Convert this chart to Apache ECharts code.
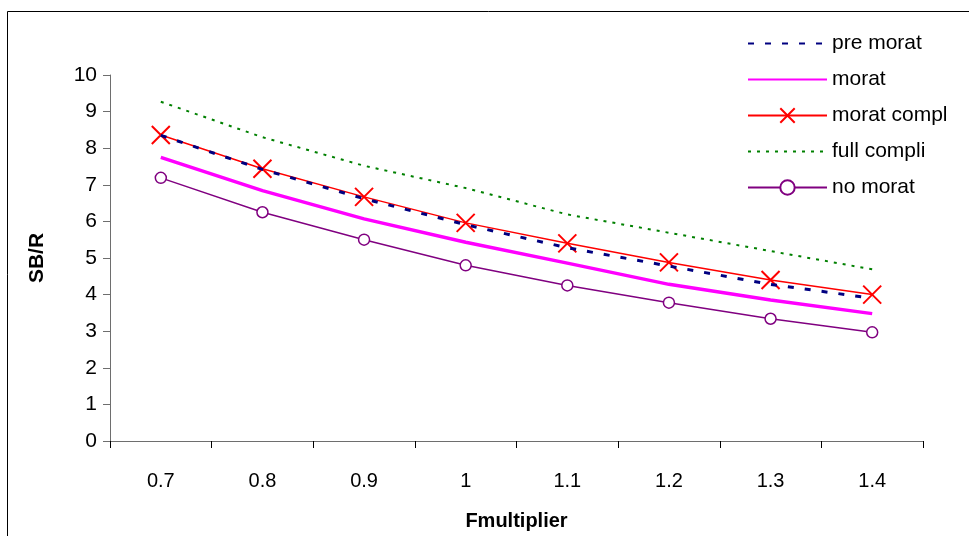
<!DOCTYPE html>
<html>
<head>
<meta charset="utf-8">
<script src="https://cdn.jsdelivr.net/npm/echarts@6/dist/echarts.min.js"></script>
<style>
  html, body { margin: 0; padding: 0; background: #fff; }
  #chart { width: 969px; height: 536px; }
</style>
</head>
<body>
<div id="chart"></div>
<script>
// data
const categories = ['0.7', '0.8', '0.9', '1', '1.1', '1.2', '1.3', '1.4']
const preMorat = [8.35, 7.42, 6.62, 5.91, 5.28, 4.78, 4.28, 3.9]
const morat = [7.75, 6.84, 6.07, 5.43, 4.86, 4.28, 3.85, 3.48]
const moratCompl = [8.36, 7.44, 6.67, 5.96, 5.4, 4.88, 4.4, 4.0]
const fullCompli = [9.27, 8.3, 7.52, 6.91, 6.19, 5.69, 5.19, 4.69]
const noMorat = [7.19, 6.25, 5.5, 4.8, 4.25, 3.78, 3.34, 2.97]
const yTicks = { min: 0, max: 10, interval: 1 }

const font = 'Liberation Sans, Arial, sans-serif'
const axisColor = '#6e6e6e'
const clear = 'rgba(0,0,0,0)'

let myChart = echarts.init(document.getElementById('chart'))

const option = {
  animation: false,
  backgroundColor: '#fff',
  textStyle: { fontFamily: font },
  grid: { left: 110, right: 46, top: 75, bottom: 94 },
  graphic: [{
    type: 'rect',
    shape: { x: 7.5, y: 11.5, width: 1000, height: 600 },
    style: { fill: 'none', stroke: '#000', lineWidth: 1 },
    silent: true
  }],
  legend: {
    orient: 'vertical',
    left: 742,
    top: 28,
    itemWidth: 79,
    itemHeight: 18,
    itemGap: 15,
    textStyle: { fontSize: 21, color: '#000', fontFamily: font },
    data: ['pre morat', 'morat', 'morat compl', 'full compli', 'no morat']
  },
  xAxis: {
    type: 'category',
    data: categories,
    boundaryGap: true,
    name: 'Fmultiplier',
    nameLocation: 'middle',
    nameGap: 70,
    nameTextStyle: { fontSize: 20, fontWeight: 'bold', color: '#000', fontFamily: font },
    axisLine: { lineStyle: { color: axisColor, width: 1 } },
    axisTick: { show: true, alignWithLabel: false, length: 7, lineStyle: { color: '#000' } },
    axisLabel: { fontSize: 20, color: '#000', margin: 30, fontFamily: font },
    splitLine: { show: false }
  },
  yAxis: {
    type: 'value',
    min: yTicks.min,
    max: yTicks.max,
    interval: yTicks.interval,
    name: 'SB/R',
    nameLocation: 'middle',
    nameGap: 62,
    nameRotate: 90,
    nameTextStyle: { fontSize: 21, fontWeight: 'bold', color: '#000', fontFamily: font },
    axisLine: { show: true, lineStyle: { color: axisColor, width: 1 } },
    axisTick: { show: true, length: 7, lineStyle: { color: axisColor } },
    axisLabel: { fontSize: 21, color: '#000', margin: 13, fontFamily: font },
    splitLine: { show: false }
  },
  series: [
    {
      name: 'pre morat',
      type: 'line',
      data: preMorat,
      symbol: 'circle',
      showSymbol: false,
      lineStyle: { color: '#000080', width: 3, type: [6, 11] },
      itemStyle: { color: clear, borderColor: clear },
      z: 3
    },
    {
      name: 'morat',
      type: 'line',
      data: morat,
      symbol: 'circle',
      showSymbol: false,
      lineStyle: { color: '#ff00ff', width: 3.5 },
      itemStyle: { color: clear, borderColor: clear }
    },
    {
      name: 'morat compl',
      type: 'line',
      data: moratCompl,
      symbol: 'path://M0,0L10,10M10,0L0,10',
      symbolSize: 18,
      lineStyle: { color: '#ff0000', width: 1.5 },
      itemStyle: { color: 'none', borderColor: '#ff0000', borderWidth: 2 },
      z: 2
    },
    {
      name: 'full compli',
      type: 'line',
      data: fullCompli,
      symbol: 'circle',
      showSymbol: false,
      lineStyle: { color: '#008000', width: 2, type: [3, 6] },
      itemStyle: { color: clear, borderColor: clear }
    },
    {
      name: 'no morat',
      type: 'line',
      data: noMorat,
      symbol: 'circle',
      symbolSize: 11,
      lineStyle: { color: '#800080', width: 1.5 },
      itemStyle: { color: '#fff', borderColor: '#800080', borderWidth: 1.5 }
    }
  ]
}

myChart.setOption(option)
</script>
</body>
</html>
